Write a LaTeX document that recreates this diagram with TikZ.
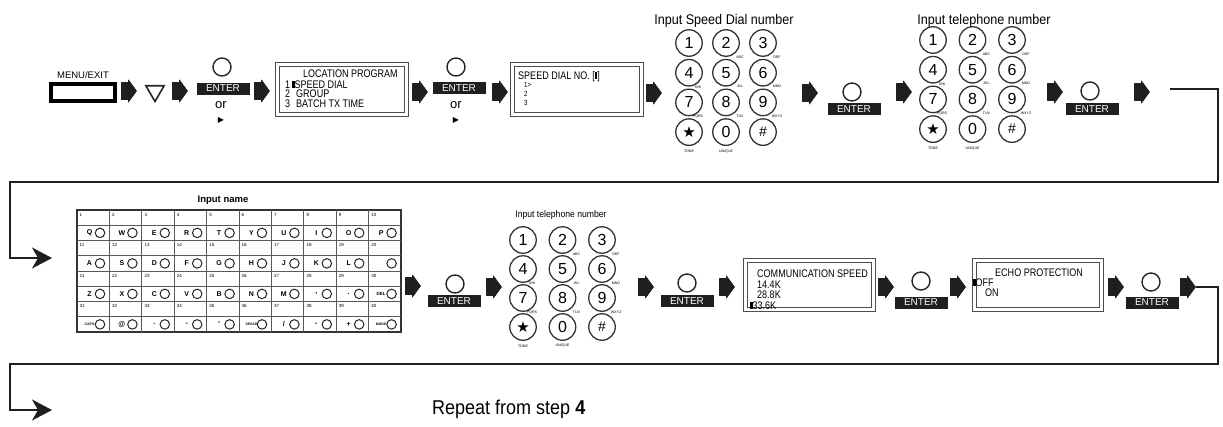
\documentclass[tikz,border=0pt]{standalone}
\usepackage{fontspec}
\setmainfont{Liberation Sans}
\newfontfamily\lcd[FakeStretch=0.82]{Liberation Sans}
\newfontfamily\ttl[FakeStretch=0.9]{Liberation Sans}
\newfontfamily\dejavu{DejaVu Sans}
\usetikzlibrary{shapes.geometric,arrows.meta}
\newcommand\fsz[1]{\fontsize{#1}{#1}\selectfont}
\newcommand\lcdcur{\rule{2.4pt}{7.5pt}}
\tikzset{
  barrowfill/.style={fill=black!88, draw=black!88, line width=0.6pt, line join=round},
  enterbox/.style={fill=black!88, text=white, font=\fsz{10}, minimum width=53pt,
    minimum height=12pt, inner sep=0pt},
  entercirc/.style={circle, draw=black!85, line width=1.4pt, minimum size=18pt, inner sep=0pt},
  lcdout/.style={draw=black!70, line width=1pt, inner sep=0pt},
  lcdin/.style={draw=black!70, line width=0.8pt, inner sep=0pt},
  lcdtxt/.style={font=\lcd\fsz{11}, anchor=west, inner sep=0pt, text height=8pt, text depth=0pt},
  lcdsmall/.style={font=\lcd\fsz{7.5}, anchor=west, inner sep=0pt, text height=5.5pt, text depth=0pt},
  key/.style={circle, draw=black!80, line width=1.3pt, minimum size=26.5pt, inner sep=0pt, font=\fsz{16}},
  keylbl/.style={font=\fsz{3.6}, inner sep=0pt},
  kbnum/.style={font=\fsz{4.5}, anchor=west, inner sep=0pt},
  kbkey/.style={font=\bfseries\fsz{7}, inner sep=0pt},
  kbcirc/.style={circle, draw=black!85, line width=1pt, minimum size=9.5pt, inner sep=0pt},
  gridline/.style={draw=black!65, line width=1pt},
  route/.style={draw=black!88, line width=2.2pt},
  orlbl/.style={font=\fsz{13}, inner sep=0pt},
  tri/.style={font=\dejavu\fsz{8}, inner sep=0pt},
}
% block arrow glyph, named by a coordinate at its centre
\newcommand\barrow[3]{%
  \coordinate (#1) at (#2,#3);
  \path[barrowfill] ([shift={(-7.5,-8.5)}]#1) -- ++(7,0) -- ++(0,-2.5) -- ++(8,11)
     -- ++(-8,11) -- ++(0,-2.5) -- ++(-7,0) -- cycle;}
% LCD box with double frame
\newcommand\lcdbox[5]{% name, cx, cy, w, h
  \node[lcdout, minimum width=#4pt, minimum height=#5pt] (#1) at (#2,#3) {};
  \node[lcdin, minimum width=#4pt-8pt, minimum height=#5pt-8pt] (#1-in) at (#2,#3) {};}
\newcommand\keypad[5]{%
\begin{scope}[shift={(#2,#3)}]
\foreach \d/\i/\j in {1/0/0,2/1/0,3/2/0,4/0/1,5/1/1,6/2/1,7/0/2,8/1/2,9/2/2,0/1/3}
  \node[key] (#1-\d) at ({\i*#4},{\j*#5}) {\d};
\node[key, font=\dejavu\fsz{15}] (#1-s) at (0,{3*#5}) {★};
\node[key, font=\fsz{14}] (#1-h) at ({2*#4},{3*#5}) {\#};
\foreach \d/\t in {2/ABC,3/DEF,5/JKL,6/MNO,8/TUV,9/WXYZ}
  \node[keylbl] (#1-l\d) at ([shift={(14,14)}]#1-\d.center) {\t};
\foreach \d/\t in {4/GHI,7/PQRS}
  \node[keylbl] (#1-l\d) at ([shift={(9,14.5)}]#1-\d.center) {\t};
\node[keylbl] (#1-ls) at ([shift={(0,19)}]#1-s.center) {TONE};
\node[keylbl] (#1-l0) at ([shift={(0,19)}]#1-0.center) {UNIQUE};
\end{scope}}
\newcommand\kbrow[2]{%
 \foreach \k [count=\c from 0] in {#2} {
   \pgfmathsetmacro\xx{77+32.4*\c}
   \pgfmathsetmacro\yy{210+30.5*#1+22.9}
   \pgfmathtruncatemacro\nn{10*#1+\c+1}
   \node[kbnum] (kn-#1-\c) at ({\xx+2.5},{\yy-18}) {\nn};
   \node[kbkey] (kl-#1-\c) at ({\xx+12.5},\yy) {\k};
   \node[kbcirc] (kc-#1-\c) at ({\xx+23},\yy) {};
 }}
\begin{document}
\begin{tikzpicture}[x=1pt,y=-1pt]
\useasboundingbox (0,0) rectangle (1223,426);
\fill[white] (0,0) rectangle (1223,426);

% ---------- row 1 ----------
\node[font=\fsz{9.5}, inner sep=0pt] (menulbl) at (83,75) {MENU/EXIT};
\node[draw=black, line width=3.5pt, minimum width=64pt, minimum height=17pt, inner sep=0pt] (menu) at (83,92.5) {};
\barrow{a1}{129}{91}
\node[draw=black!85, line width=1.6pt, regular polygon, regular polygon sides=3, shape border rotate=180,
  minimum size=21pt, inner sep=0pt] (down) at (155,91) {};
\barrow{a2}{180}{91}

\node[entercirc] (e1c) at (222,67) {};
\node[enterbox] (e1) at (223,88.5) {ENTER};
\node[orlbl] (or1) at (221,105) {or};
\node[tri] (tr1) at (221,120) {▶};
\barrow{a3}{262}{91}

\lcdbox{lp}{341.5}{89}{133}{54}
\node[lcdtxt] (lp1) at (303,73) {LOCATION PROGRAM};
\node[lcdtxt] (lp2) at (285,84) {1\hspace{2pt}\lcdcur SPEED DIAL};
\node[lcdtxt] (lp3) at (285,93.5) {2\hspace{6pt}GROUP};
\node[lcdtxt] (lp4) at (285,103) {3\hspace{6pt}BATCH TX TIME};
\barrow{a4}{420}{92}

\node[entercirc] (e2c) at (456,67) {};
\node[enterbox] (e2) at (459,88) {ENTER};
\node[orlbl] (or2) at (456,105) {or};
\node[tri] (tr2) at (456,120) {▶};
\barrow{a5}{500}{92}

\lcdbox{sd}{576.5}{89}{133}{54}
\node[lcdtxt] (sd1) at (518,75) {SPEED DIAL NO. [\lcdcur]};
\node[lcdsmall] (sd2) at (524,85) {1>};
\node[lcdsmall] (sd3) at (524,94) {2};
\node[lcdsmall] (sd4) at (524,103) {3};
\barrow{a6}{654}{93}

\node[font=\ttl\fsz{14}, inner sep=0pt] (kpat) at (724,21) {Input Speed Dial number};
\keypad{kpa}{689}{43}{37}{29.7}
\barrow{a7}{810}{93}
\node[entercirc] (e3c) at (852,92) {};
\node[enterbox] (e3) at (854,109) {ENTER};
\barrow{a8}{904}{92}

\node[font=\ttl\fsz{14}, inner sep=0pt] (kpbt) at (984,21) {Input telephone number};
\keypad{kpb}{933}{40}{39.5}{29.7}
\barrow{a9}{1055}{92}
\node[entercirc] (e4c) at (1090,91) {};
\node[enterbox] (e4) at (1092,109) {ENTER};
\barrow{a10}{1142}{92}

% route to row 2
\coordinate (r1s) at (1170,89);
\coordinate (r1e) at (52,258);
\draw[route, -{Stealth[length=20pt,width=21pt,inset=6pt]}] (r1s) -- (1218,89) -- (1218,182) -- (10,182) -- (10,258) -- (r1e);

% ---------- row 2 ----------
\node[font=\bfseries\fsz{9.5}, inner sep=0pt] (kbt) at (223,200) {Input name};
\node[draw=black!80, line width=1.5pt, minimum width=324pt, minimum height=122pt, inner sep=0pt] (kb) at (239,271) {};
\foreach \i in {1,...,9} \draw[gridline] ({77+32.4*\i},210) -- ({77+32.4*\i},332);
\foreach \j in {1,...,7} \draw[gridline] (77,{210+15.25*\j}) -- (401,{210+15.25*\j});
\kbrow{0}{Q,W,E,R,T,Y,U,I,O,P}
\kbrow{1}{A,S,D,F,G,H,J,K,L,{}}
\kbrow{2}{Z,X,C,V,B,N,M,{,},.,{\fsz{4.5}DEL}}
\kbrow{3}{{\fsz{3.5}CAPS},@,.,-,',{\fsz{3.5}SPACE},/,-,+,{\fsz{3.5}MODE}}
\barrow{b1}{413}{286}

\node[entercirc] (e5c) at (455,284) {};
\node[enterbox] (e5) at (454,301) {ENTER};
\barrow{b2}{494}{287}

\node[font=\ttl\fsz{9.6}, inner sep=0pt] (kpct) at (561,215) {Input telephone number};
\keypad{kpc}{523}{240}{39.5}{29}
\barrow{b3}{646}{287}
\node[entercirc] (e6c) at (687,283) {};
\node[enterbox] (e6) at (687,301) {ENTER};
\barrow{b4}{727}{287}

\lcdbox{cs}{809}{284.5}{132}{53}
\node[lcdtxt] (cs1) at (757,273) {COMMUNICATION SPEED};
\node[lcdtxt] (cs2) at (757,284) {14.4K};
\node[lcdtxt] (cs3) at (757,294.5) {28.8K};
\node[lcdtxt] (cs4) at (750,305) {\lcdcur 33.6K};
\barrow{b5}{886}{287}
\node[entercirc] (e7c) at (921,281) {};
\node[enterbox] (e7) at (921,302.5) {ENTER};
\barrow{b6}{958}{287}

\lcdbox{ep}{1037.5}{284.5}{131}{53}
\node[lcdtxt] (ep1) at (995,272) {ECHO PROTECTION};
\node[lcdtxt] (ep2) at (973,282) {\lcdcur OFF};
\node[lcdtxt] (ep3) at (985,292) {ON};
\barrow{b7}{1116}{287}
\node[entercirc] (e8c) at (1151,282) {};
\node[enterbox] (e8) at (1152,302.5) {ENTER};
\barrow{b8}{1188}{287}

% route to row 3
\coordinate (r2s) at (1196,287);
\coordinate (r2e) at (52,410);
\draw[route, -{Stealth[length=20pt,width=21pt,inset=6pt]}] (r2s) -- (1218,287) -- (1218,364) -- (10,364) -- (10,410) -- (r2e);

\node[font=\ttl\fsz{20}, anchor=west, inner sep=0pt] (rep) at (432,409) {Repeat from step\hspace{5pt}{\bfseries 4}};
\end{tikzpicture}
\end{document}
